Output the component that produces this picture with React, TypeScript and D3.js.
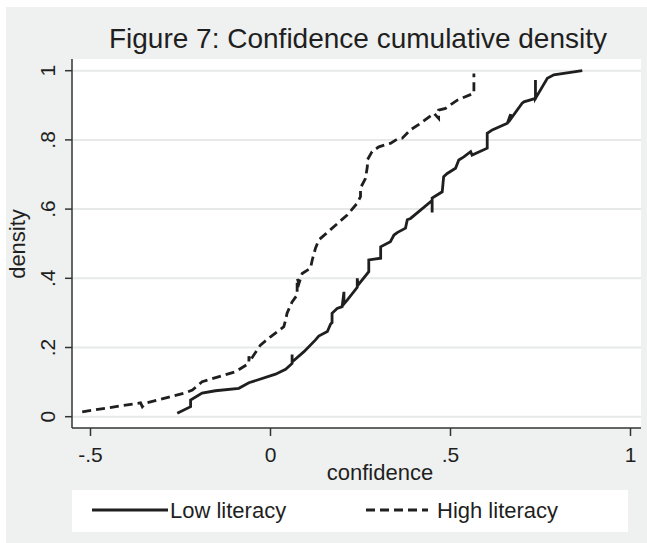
import React from "react";
import * as d3 from "d3";

// Low literacy cumulative density (confidence, density)
const lowConfidence = [-0.259,-0.222,-0.222,-0.19,-0.153,-0.088,-0.06,0.014,0.042,0.06,0.06,0.06,0.093,0.125,0.134,0.158,0.167,0.171,0.171,0.185,0.199,0.204,0.204,0.213,0.241,0.241,0.243,0.273,0.273,0.306,0.306,0.333,0.343,0.352,0.375,0.38,0.389,0.449,0.449,0.449,0.477,0.481,0.491,0.514,0.523,0.537,0.556,0.56,0.602,0.602,0.616,0.658,0.667,0.667,0.699,0.704,0.736,0.736,0.736,0.769,0.787,0.866];
const lowDensity = [0.01,0.029,0.048,0.068,0.075,0.082,0.098,0.123,0.137,0.154,0.18,0.158,0.188,0.222,0.233,0.246,0.268,0.272,0.299,0.313,0.318,0.361,0.326,0.337,0.374,0.4,0.38,0.419,0.453,0.458,0.491,0.506,0.525,0.532,0.545,0.569,0.573,0.625,0.59,0.632,0.65,0.694,0.703,0.718,0.742,0.751,0.766,0.756,0.776,0.819,0.829,0.848,0.874,0.86,0.906,0.91,0.92,0.973,0.92,0.978,0.988,1.0];

// High literacy cumulative density
const highConfidence = [-0.523,-0.361,-0.356,-0.347,-0.236,-0.217,-0.19,-0.097,-0.06,-0.06,-0.058,-0.037,-0.028,0.0,0.037,0.042,0.046,0.06,0.074,0.074,0.079,0.088,0.111,0.116,0.125,0.134,0.155,0.213,0.241,0.25,0.25,0.264,0.269,0.269,0.282,0.301,0.333,0.356,0.366,0.389,0.417,0.454,0.467,0.467,0.486,0.519,0.565,0.565];
const highDensity = [0.014,0.04,0.029,0.039,0.069,0.077,0.101,0.13,0.154,0.175,0.16,0.193,0.207,0.231,0.26,0.279,0.299,0.332,0.352,0.4,0.385,0.414,0.429,0.453,0.487,0.511,0.53,0.583,0.617,0.636,0.661,0.689,0.723,0.742,0.766,0.78,0.79,0.805,0.805,0.829,0.848,0.877,0.862,0.886,0.891,0.915,0.935,0.992];

const xTicks = [-0.5, 0, 0.5, 1];
const xTickLabels = ["-.5", "0", ".5", "1"];
const yTicks = [0, 0.2, 0.4, 0.6, 0.8, 1];
const yTickLabels = ["0", ".2", ".4", ".6", ".8", "1"];

const W = 647;
const H = 543;
const plotL = 72, plotR = 641, plotT = 59, plotB = 428;
const FONT = "'Liberation Sans', Arial, Helvetica, sans-serif";
const INK = "#1f1f1f";

export default function App() {
  const x = d3.scaleLinear().domain([0, 1]).range([270.5, 630.5]);
  const y = d3.scaleLinear().domain([0, 1]).range([416.7, 70.7]);
  const line = d3.line<[number, number]>().x(d => x(d[0])).y(d => y(d[1]));
  const lowPts = lowConfidence.map((c, i) => [c, lowDensity[i]] as [number, number]);
  const highPts = highConfidence.map((c, i) => [c, highDensity[i]] as [number, number]);

  return (
    <svg width={W} height={H} style={{ position: "absolute", left: 0, top: 0 }} fontFamily={FONT}>
      <rect x={0} y={0} width={W} height={H} fill="#ffffff" />
      <rect x={6} y={7} width={W - 6} height={H - 7} fill="#eef1ef" />
      <rect x={plotL} y={plotT} width={plotR - plotL} height={plotB - plotT} fill="#ffffff" />
      {yTicks.map(t => (
        <line key={"g" + t} x1={plotL} x2={plotR} y1={y(t)} y2={y(t)} stroke="#e7e9e9" strokeWidth={2} />
      ))}
      <path d={line(lowPts) || ""} fill="none" stroke={INK} strokeWidth={2.8} strokeLinejoin="miter" />
      <path d={line(highPts) || ""} fill="none" stroke={INK} strokeWidth={2.8} strokeDasharray="9 5" />
      {/* axes */}
      <line x1={plotL} x2={plotL} y1={plotT} y2={plotB} stroke="#333" strokeWidth={1.5} />
      <line x1={plotL} x2={plotR} y1={plotB} y2={plotB} stroke="#333" strokeWidth={1.5} />
      {yTicks.map((t, i) => (
        <g key={"yt" + t}>
          <line x1={65} x2={plotL} y1={y(t)} y2={y(t)} stroke="#333" strokeWidth={1.5} />
          <text transform={`translate(55,${y(t)}) rotate(-90)`} textAnchor="middle" fontSize={21} fill={INK}>
            {yTickLabels[i]}
          </text>
        </g>
      ))}
      {xTicks.map((t, i) => (
        <g key={"xt" + t}>
          <line x1={x(t)} x2={x(t)} y1={plotB} y2={436} stroke="#333" strokeWidth={1.5} />
          <text x={x(t)} y={462} textAnchor="middle" fontSize={21} fill={INK}>
            {xTickLabels[i]}
          </text>
        </g>
      ))}
      <text x={380} y={480} textAnchor="middle" fontSize={22} fill={INK}>confidence</text>
      <text transform={`translate(25,244) rotate(-90)`} textAnchor="middle" fontSize={22} fill={INK}>density</text>
      <text x={358} y={48} textAnchor="middle" fontSize={28} fill={INK}>Figure 7: Confidence cumulative density</text>
      {/* legend */}
      <rect x={72} y={490} width={556} height={42} fill="#ffffff" />
      <line x1={92} x2={168} y1={510} y2={510} stroke={INK} strokeWidth={2.8} />
      <text x={170} y={518} fontSize={22} fill={INK}>Low literacy</text>
      <line x1={366} x2={428} y1={510} y2={510} stroke={INK} strokeWidth={2.8} strokeDasharray="9 5" />
      <text x={437} y={518} fontSize={22} fill={INK}>High literacy</text>
    </svg>
  );
}
